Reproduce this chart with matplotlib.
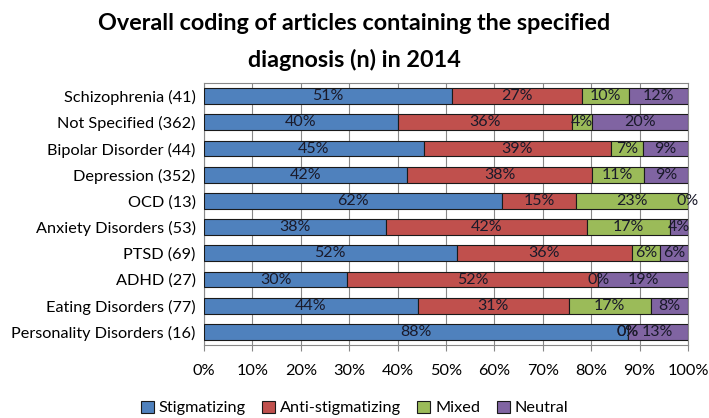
import numpy as np
import matplotlib
matplotlib.use("Agg")
from matplotlib import pyplot as plt

plt.rcParams['font.family'] = ['Lato', 'DejaVu Sans']

categories = ["Schizophrenia (41)", "Not Specified (362)", "Bipolar Disorder (44)",
              "Depression (352)", "OCD (13)", "Anxiety Disorders (53)", "PTSD (69)",
              "ADHD (27)", "Eating Disorders (77)", "Personality Disorders (16)"]

# percent of articles per category
stigmatizing = [51.2, 40.1, 45.4, 42.0, 61.5, 37.7, 52.2, 29.6, 44.2, 87.5]
anti_stigmatizing = [26.8, 35.9, 38.6, 38.1, 15.4, 41.5, 36.2, 51.9, 31.2, 0.0]
mixed = [9.8, 4.1, 6.8, 10.8, 23.1, 17.0, 5.8, 0.0, 16.9, 0.0]
neutral = [12.2, 19.9, 9.2, 9.1, 0.0, 3.8, 5.8, 18.5, 7.8, 12.5]

series = ["Stigmatizing", "Anti-stigmatizing", "Mixed", "Neutral"]
colors = ["#4F81BD", "#C0504D", "#9BBB59", "#8064A2"]

fig = plt.figure(figsize=(7.09, 4.18), dpi=100)
ax = fig.add_axes([0.2877, 0.1746, 0.6827, 0.6268])

y = np.arange(len(categories))
left = np.zeros(len(categories))
for name, vals, c in zip(series, [stigmatizing, anti_stigmatizing, mixed, neutral], colors):
    vals = np.array(vals)
    ax.barh(y, vals, left=left, height=0.6, color=c, edgecolor="#1a1a1a",
            linewidth=0.8, label=name, zorder=3)
    for yi, l, v in zip(y, left, vals):
        ax.text(l + v / 2, yi, "%d%%" % int(v + 0.5), ha="center", va="center",
                fontsize=11.5, color="#1a1a2a", zorder=4)
    left = left + vals

ax.set_xlim(0, 100)
ax.set_ylim(len(categories) - 0.5, -0.5)
ax.set_yticks(y)
ax.set_yticklabels(categories, fontsize=11.7)
ax.set_xticks(np.arange(0, 101, 10))
ax.set_xticklabels(["%d%%" % t for t in range(0, 101, 10)], fontsize=11.7)
ax.tick_params(axis="y", length=0, pad=6)
ax.tick_params(axis="x", length=4, color="#888888", pad=10)
ax.grid(axis="x", color="#888888", linewidth=0.8, zorder=0)
for s in ax.spines.values():
    s.set_color("#888888")
    s.set_linewidth(0.8)

fig.text(0.5, 0.9, "Overall coding of articles containing the specified\ndiagnosis (n) in 2014",
         ha="center", va="center", fontsize=16.8, fontweight="bold", linespacing=1.85)

fig.legend(loc="center", bbox_to_anchor=(0.5, 0.024), ncol=4, frameon=False,
           fontsize=11.7, handlelength=0.8, handleheight=0.8, handletextpad=0.3,
           columnspacing=1.0)

fig.savefig("out.png", dpi=100)
